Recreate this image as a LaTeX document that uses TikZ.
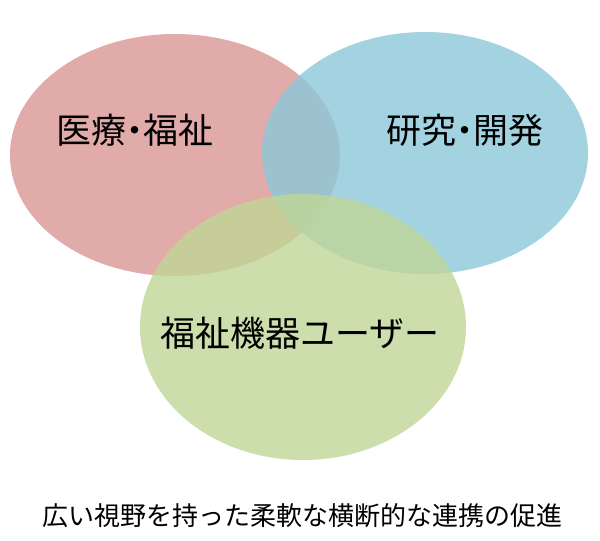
\documentclass[tikz,border=0pt]{standalone}
\usepackage{fontspec}
\setmainfont{Noto Sans CJK JP}
\begin{document}
\begin{tikzpicture}[x=1pt,y=-1pt,
  circ/.style={draw=none,fill opacity=0.8},
  big/.style={font=\fontsize{35}{40}\selectfont},
  small/.style={font=\fontsize{26}{30}\selectfont}]
\useasboundingbox (0,0) rectangle (600,541);
\fill[white] (0,0) rectangle (600,541);
\fill[circ,fill={rgb,255:red,217;green,150;blue,148}] (175,155) ellipse [x radius=165,y radius=121];
\fill[circ,fill={rgb,255:red,140;green,200;blue,218}] (425,153) ellipse [x radius=163,y radius=121];
\fill[circ,fill={rgb,255:red,192;green,214;blue,150}] (303,327) ellipse [x radius=163,y radius=133];
\node[big] (a) at (135,130) {医療\hspace{-9pt}・\hspace{-9pt}福祉};
\node[big] (b) at (465,130) {研究\hspace{-9pt}・\hspace{-9pt}開発};
\node[big] (c) at (300,333) {福祉機器ユーザー};
\node[small] (d) at (302,516) {広い視野を持った柔軟な横断的な連携の促進};
\end{tikzpicture}
\end{document}
